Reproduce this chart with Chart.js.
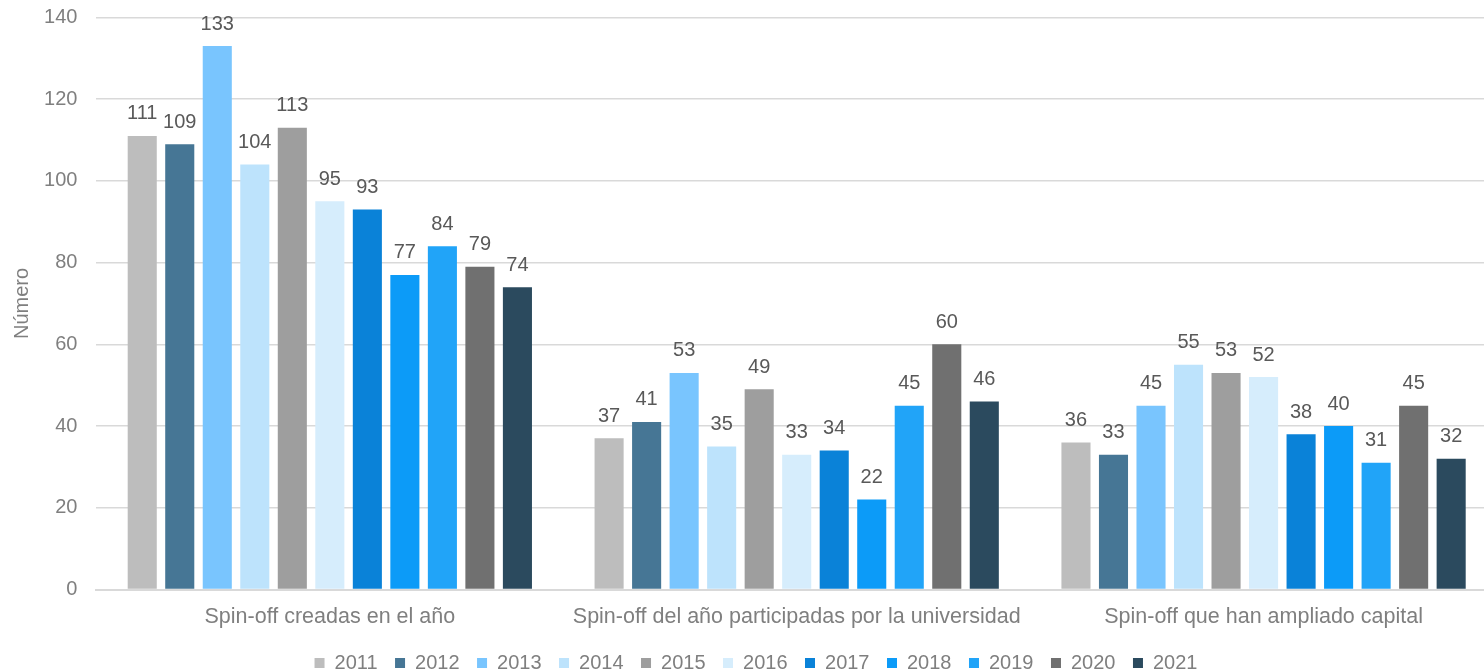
<!DOCTYPE html>
<html>
<head>
<meta charset="utf-8">
<script src="https://cdn.jsdelivr.net/npm/chart.js@4/dist/chart.umd.min.js"></script>
<style>
  html, body { margin: 0; padding: 0; background: #ffffff; overflow: hidden; }
  #wrap { width: 1510px; height: 672px; }
</style>
</head>
<body>
<div id="wrap"><canvas id="c" width="1510" height="672"></canvas></div>
<script>
const categories = [
  "Spin-off creadas en el año",
  "Spin-off del año participadas por la universidad",
  "Spin-off que han ampliado capital"
];
const years = ["2011","2012","2013","2014","2015","2016","2017","2018","2019","2020","2021"];
const v2011 = [111, 37, 36];
const v2012 = [109, 41, 33];
const v2013 = [133, 53, 45];
const v2014 = [104, 35, 55];
const v2015 = [113, 49, 53];
const v2016 = [95, 33, 52];
const v2017 = [93, 34, 38];
const v2018 = [77, 22, 40];
const v2019 = [84, 45, 31];
const v2020 = [79, 60, 45];
const v2021 = [74, 46, 32];
const seriesValues = [v2011, v2012, v2013, v2014, v2015, v2016, v2017, v2018, v2019, v2020, v2021];
const colors = ["#BDBDBD","#467695","#79C5FE","#BDE3FC","#9E9E9E","#D6EDFC","#0A82D8","#0C9BF8","#21A4F8","#707070","#2B4A5E"];
const yTicks = [0, 20, 40, 60, 80, 100, 120, 140];

const FONT = "'Liberation Sans', Arial, sans-serif";

const dataLabels = {
  id: 'dataLabels',
  afterDatasetsDraw(chart) {
    const ctx = chart.ctx;
    ctx.save();
    ctx.font = "20px " + FONT;
    ctx.fillStyle = "#595959";
    ctx.textAlign = "center";
    ctx.textBaseline = "alphabetic";
    chart.data.datasets.forEach((ds, i) => {
      const meta = chart.getDatasetMeta(i);
      meta.data.forEach((el, j) => {
        ctx.fillText(String(ds.data[j]), el.x, el.y - 16.5);
      });
    });
    ctx.restore();
  }
};

const legendShift = {
  id: 'legendShift',
  afterLayout(chart) {
    if (chart.legend) { chart.legend.left += 7.5; chart.legend.right += 7.5; }
  }
};

new Chart(document.getElementById('c'), {
  type: 'bar',
  data: {
    labels: categories,
    datasets: years.map((y, i) => ({
      label: y,
      data: seriesValues[i],
      backgroundColor: colors[i],
      borderWidth: 0,
      categoryPercentage: 0.884,
      barPercentage: 0.775
    }))
  },
  options: {
    responsive: false,
    animation: false,
    devicePixelRatio: 1,
    layout: { padding: { left: 0, right: 13, top: 17.5, bottom: -11 } },
    scales: {
      x: {
        grid: { display: false, drawTicks: false },
        border: { display: true, color: "#d9d9d9", width: 2 },
        ticks: { color: "#7f7f7f", font: { size: 21.5, family: FONT }, padding: 15, maxRotation: 0, autoSkip: false },
        afterFit(scale) { scale.height = 46; }
      },
      y: {
        min: 0, max: 140,
        afterBuildTicks(scale) { scale.ticks = yTicks.map(v => ({ value: v })); },
        grid: { color: "#d9d9d9", lineWidth: 1.5, drawTicks: false },
        border: { display: false },
        ticks: { color: "#7f7f7f", font: { size: 20, family: FONT }, padding: 19 },
        title: { display: true, text: "Número", color: "#7f7f7f", font: { size: 20, family: FONT }, padding: { top: 10, bottom: 0 } },
        afterFit(scale) { scale.width = 96.4; scale.paddingTop = 0; scale.paddingBottom = 0; }
      }
    },
    plugins: {
      legend: {
        position: 'bottom',
        labels: { boxWidth: 10, boxHeight: 10, padding: 17.5, color: "#7f7f7f", font: { size: 20, family: FONT } }
      },
      tooltip: { enabled: false }
    }
  },
  plugins: [dataLabels, legendShift]
});
</script>
</body>
</html>
